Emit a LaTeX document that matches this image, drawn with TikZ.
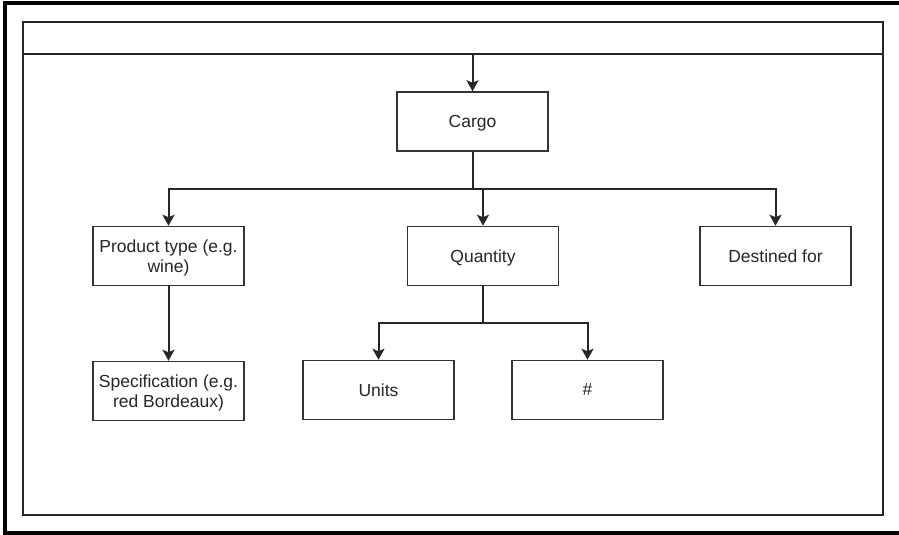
\documentclass[tikz,border=0pt]{standalone}
\usepackage{fontspec}
\setmainfont{Liberation Sans}
\usepackage{tikz}
\usetikzlibrary{arrows.meta,calc}

\begin{document}
\begin{tikzpicture}[x=1pt,y=-1pt,
  item/.style={draw=black!80,line width=1.5pt,minimum width=151pt,minimum height=59pt,
    inner sep=2pt,align=center,text depth=0pt,text=black!85,font=\fontsize{17.5}{20.5}\selectfont},
  link/.style={draw=black!85,line width=2pt},
  tip/.style={link,-{Stealth[length=11pt,width=12pt,inset=2.5pt]}}]
\useasboundingbox (0,0) rectangle (899,535);
\draw[line width=3.2pt] (899,3) -- (5,3) -- (5,533) -- (899,533);
\draw[line width=2pt,draw=black!85] (23,22) rectangle (883,515);
\draw[line width=2pt,draw=black!85] (23,54) -- (883,54);

\node[item] (cargo) at (472.5,121.5) {Cargo};
\node[item] (product) at (168.5,256) {Product type (e.g.\\wine)};
\node[item] (quantity) at (483,256) {Quantity};
\node[item] (dest) at (775.5,256) {Destined for};
\node[item] (spec) at (168.5,391) {Specification (e.g.\\red Bordeaux)};
\node[item] (units) at (378.5,390) {Units};
\node[item] (hash) at (587.5,390) {\#};

\coordinate (top) at (472.5,54);
\coordinate (split) at (472.5,189);
\coordinate (qsplit) at (483,323);

\draw[tip] (top) -- (cargo.north);
\draw[link] (cargo.south) -- (split);
\draw[tip] (split) -| (product.north);
\draw[tip] (split) -| (dest.north);
\draw[tip] (split -| quantity.north) -- (quantity.north);
\draw[tip] (product.south) -- (spec.north);
\draw[link] (quantity.south) -- (qsplit);
\draw[tip] (qsplit) -| (units.north);
\draw[tip] (qsplit) -| (hash.north);
\end{tikzpicture}
\end{document}
